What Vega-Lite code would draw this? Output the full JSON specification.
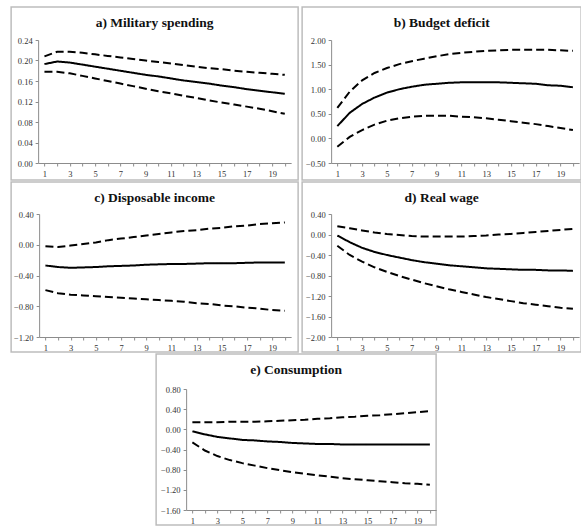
{
  "$schema": "https://vega.github.io/schema/vega-lite/v6.json",
  "background": "white",
  "padding": {"left": 10, "top": 6, "right": 0, "bottom": 0},
  "spacing": 0,
  "center": true,
  "config": {
    "view": {"stroke": "#bdbdbd", "strokeWidth": 1.5},
    "axis": {"grid": false, "domainColor": "#8c8c8c", "tickColor": "#8c8c8c", "tickSize": 3, "labelFont": "Liberation Serif, Times New Roman, serif", "labelFontSize": 8.5, "labelColor": "#333333", "labelPadding": 3},
    "title": {"font": "Liberation Serif, Times New Roman, serif", "fontSize": 13.5, "fontWeight": "bold", "color": "#111111", "frame": "group", "offset": -22},
    "line": {"color": "black", "strokeWidth": 2}
  },
  "datasets": {
    "a": [
      {"t": 1, "lo": 0.178, "est": 0.193, "hi": 0.208},
      {"t": 2, "lo": 0.178, "est": 0.198, "hi": 0.217},
      {"t": 3, "lo": 0.175, "est": 0.196, "hi": 0.217},
      {"t": 4, "lo": 0.170, "est": 0.192, "hi": 0.215},
      {"t": 5, "lo": 0.165, "est": 0.188, "hi": 0.212},
      {"t": 6, "lo": 0.160, "est": 0.184, "hi": 0.209},
      {"t": 7, "lo": 0.155, "est": 0.180, "hi": 0.206},
      {"t": 8, "lo": 0.150, "est": 0.176, "hi": 0.203},
      {"t": 9, "lo": 0.145, "est": 0.172, "hi": 0.200},
      {"t": 10, "lo": 0.140, "est": 0.169, "hi": 0.197},
      {"t": 11, "lo": 0.136, "est": 0.165, "hi": 0.194},
      {"t": 12, "lo": 0.131, "est": 0.161, "hi": 0.191},
      {"t": 13, "lo": 0.127, "est": 0.158, "hi": 0.188},
      {"t": 14, "lo": 0.122, "est": 0.155, "hi": 0.185},
      {"t": 15, "lo": 0.118, "est": 0.151, "hi": 0.183},
      {"t": 16, "lo": 0.114, "est": 0.148, "hi": 0.180},
      {"t": 17, "lo": 0.110, "est": 0.144, "hi": 0.178},
      {"t": 18, "lo": 0.106, "est": 0.141, "hi": 0.176},
      {"t": 19, "lo": 0.101, "est": 0.138, "hi": 0.174},
      {"t": 20, "lo": 0.096, "est": 0.135, "hi": 0.172}
    ],
    "b": [
      {"t": 1, "lo": -0.17, "est": 0.25, "hi": 0.62},
      {"t": 2, "lo": 0.03, "est": 0.52, "hi": 0.95},
      {"t": 3, "lo": 0.17, "est": 0.70, "hi": 1.18},
      {"t": 4, "lo": 0.28, "est": 0.83, "hi": 1.33},
      {"t": 5, "lo": 0.36, "est": 0.93, "hi": 1.43},
      {"t": 6, "lo": 0.41, "est": 1.00, "hi": 1.51},
      {"t": 7, "lo": 0.44, "est": 1.05, "hi": 1.57},
      {"t": 8, "lo": 0.46, "est": 1.09, "hi": 1.62},
      {"t": 9, "lo": 0.46, "est": 1.11, "hi": 1.67},
      {"t": 10, "lo": 0.46, "est": 1.13, "hi": 1.71},
      {"t": 11, "lo": 0.44, "est": 1.14, "hi": 1.74},
      {"t": 12, "lo": 0.43, "est": 1.14, "hi": 1.76},
      {"t": 13, "lo": 0.41, "est": 1.14, "hi": 1.78},
      {"t": 14, "lo": 0.38, "est": 1.14, "hi": 1.79},
      {"t": 15, "lo": 0.35, "est": 1.13, "hi": 1.80},
      {"t": 16, "lo": 0.32, "est": 1.12, "hi": 1.80},
      {"t": 17, "lo": 0.29, "est": 1.11, "hi": 1.80},
      {"t": 18, "lo": 0.25, "est": 1.08, "hi": 1.80},
      {"t": 19, "lo": 0.21, "est": 1.07, "hi": 1.79},
      {"t": 20, "lo": 0.17, "est": 1.04, "hi": 1.78}
    ],
    "c": [
      {"t": 1, "lo": -0.59, "est": -0.27, "hi": -0.02},
      {"t": 2, "lo": -0.63, "est": -0.29, "hi": -0.03},
      {"t": 3, "lo": -0.65, "est": -0.30, "hi": -0.01},
      {"t": 4, "lo": -0.66, "est": -0.295, "hi": 0.01},
      {"t": 5, "lo": -0.67, "est": -0.29, "hi": 0.03},
      {"t": 6, "lo": -0.68, "est": -0.28, "hi": 0.06},
      {"t": 7, "lo": -0.69, "est": -0.275, "hi": 0.08},
      {"t": 8, "lo": -0.70, "est": -0.27, "hi": 0.10},
      {"t": 9, "lo": -0.71, "est": -0.26, "hi": 0.12},
      {"t": 10, "lo": -0.72, "est": -0.255, "hi": 0.14},
      {"t": 11, "lo": -0.73, "est": -0.25, "hi": 0.16},
      {"t": 12, "lo": -0.74, "est": -0.25, "hi": 0.18},
      {"t": 13, "lo": -0.76, "est": -0.245, "hi": 0.19},
      {"t": 14, "lo": -0.77, "est": -0.24, "hi": 0.21},
      {"t": 15, "lo": -0.79, "est": -0.24, "hi": 0.22},
      {"t": 16, "lo": -0.80, "est": -0.24, "hi": 0.24},
      {"t": 17, "lo": -0.82, "est": -0.235, "hi": 0.25},
      {"t": 18, "lo": -0.83, "est": -0.23, "hi": 0.27},
      {"t": 19, "lo": -0.85, "est": -0.23, "hi": 0.28},
      {"t": 20, "lo": -0.86, "est": -0.23, "hi": 0.29}
    ],
    "d": [
      {"t": 1, "lo": -0.22, "est": -0.02, "hi": 0.16},
      {"t": 2, "lo": -0.40, "est": -0.15, "hi": 0.12},
      {"t": 3, "lo": -0.53, "est": -0.26, "hi": 0.08},
      {"t": 4, "lo": -0.64, "est": -0.34, "hi": 0.04},
      {"t": 5, "lo": -0.73, "est": -0.40, "hi": 0.01},
      {"t": 6, "lo": -0.81, "est": -0.45, "hi": -0.01},
      {"t": 7, "lo": -0.88, "est": -0.50, "hi": -0.03},
      {"t": 8, "lo": -0.95, "est": -0.54, "hi": -0.04},
      {"t": 9, "lo": -1.01, "est": -0.57, "hi": -0.04},
      {"t": 10, "lo": -1.07, "est": -0.60, "hi": -0.04},
      {"t": 11, "lo": -1.12, "est": -0.62, "hi": -0.04},
      {"t": 12, "lo": -1.17, "est": -0.64, "hi": -0.03},
      {"t": 13, "lo": -1.22, "est": -0.66, "hi": -0.02},
      {"t": 14, "lo": -1.26, "est": -0.67, "hi": 0.00},
      {"t": 15, "lo": -1.30, "est": -0.68, "hi": 0.01},
      {"t": 16, "lo": -1.34, "est": -0.69, "hi": 0.03},
      {"t": 17, "lo": -1.37, "est": -0.69, "hi": 0.05},
      {"t": 18, "lo": -1.40, "est": -0.70, "hi": 0.07},
      {"t": 19, "lo": -1.43, "est": -0.70, "hi": 0.09},
      {"t": 20, "lo": -1.45, "est": -0.71, "hi": 0.11}
    ],
    "e": [
      {"t": 1, "lo": -0.26, "est": -0.04, "hi": 0.14},
      {"t": 2, "lo": -0.42, "est": -0.10, "hi": 0.14},
      {"t": 3, "lo": -0.53, "est": -0.15, "hi": 0.14},
      {"t": 4, "lo": -0.61, "est": -0.18, "hi": 0.15},
      {"t": 5, "lo": -0.67, "est": -0.21, "hi": 0.15},
      {"t": 6, "lo": -0.72, "est": -0.22, "hi": 0.15},
      {"t": 7, "lo": -0.77, "est": -0.24, "hi": 0.16},
      {"t": 8, "lo": -0.81, "est": -0.25, "hi": 0.17},
      {"t": 9, "lo": -0.85, "est": -0.27, "hi": 0.18},
      {"t": 10, "lo": -0.88, "est": -0.28, "hi": 0.19},
      {"t": 11, "lo": -0.91, "est": -0.29, "hi": 0.21},
      {"t": 12, "lo": -0.94, "est": -0.29, "hi": 0.22},
      {"t": 13, "lo": -0.97, "est": -0.30, "hi": 0.24},
      {"t": 14, "lo": -0.99, "est": -0.30, "hi": 0.25},
      {"t": 15, "lo": -1.01, "est": -0.30, "hi": 0.27},
      {"t": 16, "lo": -1.03, "est": -0.30, "hi": 0.28},
      {"t": 17, "lo": -1.05, "est": -0.30, "hi": 0.30},
      {"t": 18, "lo": -1.07, "est": -0.30, "hi": 0.32},
      {"t": 19, "lo": -1.08, "est": -0.30, "hi": 0.34},
      {"t": 20, "lo": -1.10, "est": -0.30, "hi": 0.36}
    ]
  },
  "vconcat": [
    {
      "spacing": 2,
      "hconcat": [
        {
          "width": 287, "height": 173,
          "title": {"text": "a) Military spending"},
          "data": {"name": "a"},
          "transform": [{"fold": ["lo", "est", "hi"], "as": ["series", "v"]}],
          "mark": "line",
          "encoding": {
            "x": {"field": "t", "type": "quantitative", "scale": {"domain": [0.5, 20.5], "range": [27, 280], "nice": false, "zero": false}, "axis": {"title": null, "values": [1,2,3,4,5,6,7,8,9,10,11,12,13,14,15,16,17,18,19,20], "labelExpr": "datum.value % 2 == 1 ? datum.label : ''", "offset": -17}},
            "y": {"field": "v", "type": "quantitative", "scale": {"domain": [0, 0.24], "range": [156, 33], "nice": false, "zero": false}, "axis": {"title": null, "values": [0, 0.04, 0.08, 0.12, 0.16, 0.2, 0.24], "format": ".2f", "offset": -27}},
            "strokeDash": {"field": "series", "type": "nominal", "scale": {"domain": ["est", "lo", "hi"], "range": [[1, 0], [8, 4], [8, 4]]}, "legend": null}
          }
        },
        {
          "width": 279, "height": 173,
          "title": {"text": "b) Budget deficit"},
          "data": {"name": "b"},
          "transform": [{"fold": ["lo", "est", "hi"], "as": ["series", "v"]}],
          "mark": "line",
          "encoding": {
            "x": {"field": "t", "type": "quantitative", "scale": {"domain": [0.5, 20.5], "range": [29, 277], "nice": false, "zero": false}, "axis": {"title": null, "values": [1,2,3,4,5,6,7,8,9,10,11,12,13,14,15,16,17,18,19,20], "labelExpr": "datum.value % 2 == 1 ? datum.label : ''", "offset": -17}},
            "y": {"field": "v", "type": "quantitative", "scale": {"domain": [-0.5, 2.0], "range": [156, 33], "nice": false, "zero": false}, "axis": {"title": null, "values": [-0.5, 0, 0.5, 1.0, 1.5, 2.0], "format": ".2f", "offset": -29}},
            "strokeDash": {"field": "series", "type": "nominal", "scale": {"domain": ["est", "lo", "hi"], "range": [[1, 0], [8, 4], [8, 4]]}, "legend": null}
          }
        }
      ]
    },
    {
      "spacing": 2,
      "hconcat": [
        {
          "width": 287, "height": 170,
          "title": {"text": "c) Disposable income"},
          "data": {"name": "c"},
          "transform": [{"fold": ["lo", "est", "hi"], "as": ["series", "v"]}],
          "mark": "line",
          "encoding": {
            "x": {"field": "t", "type": "quantitative", "scale": {"domain": [0.5, 20.5], "range": [28, 280], "nice": false, "zero": false}, "axis": {"title": null, "values": [1,2,3,4,5,6,7,8,9,10,11,12,13,14,15,16,17,18,19,20], "labelExpr": "datum.value % 2 == 1 ? datum.label : ''", "offset": -15}},
            "y": {"field": "v", "type": "quantitative", "scale": {"domain": [-1.2, 0.4], "range": [155, 32], "nice": false, "zero": false}, "axis": {"title": null, "values": [-1.2, -0.8, -0.4, 0, 0.4], "format": ".2f", "offset": -28}},
            "strokeDash": {"field": "series", "type": "nominal", "scale": {"domain": ["est", "lo", "hi"], "range": [[1, 0], [8, 4], [8, 4]]}, "legend": null}
          }
        },
        {
          "width": 279, "height": 170,
          "title": {"text": "d) Real wage"},
          "data": {"name": "d"},
          "transform": [{"fold": ["lo", "est", "hi"], "as": ["series", "v"]}],
          "mark": "line",
          "encoding": {
            "x": {"field": "t", "type": "quantitative", "scale": {"domain": [0.5, 20.5], "range": [29, 277], "nice": false, "zero": false}, "axis": {"title": null, "values": [1,2,3,4,5,6,7,8,9,10,11,12,13,14,15,16,17,18,19,20], "labelExpr": "datum.value % 2 == 1 ? datum.label : ''", "offset": -15}},
            "y": {"field": "v", "type": "quantitative", "scale": {"domain": [-2.0, 0.4], "range": [155, 32], "nice": false, "zero": false}, "axis": {"title": null, "values": [-2.0, -1.6, -1.2, -0.8, -0.4, 0, 0.4], "format": ".2f", "offset": -29}},
            "strokeDash": {"field": "series", "type": "nominal", "scale": {"domain": ["est", "lo", "hi"], "range": [[1, 0], [8, 4], [8, 4]]}, "legend": null}
          }
        }
      ]
    },
    {
      "width": 280, "height": 171,
      "title": {"text": "e) Consumption"},
      "data": {"name": "e"},
      "transform": [{"fold": ["lo", "est", "hi"], "as": ["series", "v"]}],
      "mark": "line",
      "encoding": {
        "x": {"field": "t", "type": "quantitative", "scale": {"domain": [0.5, 20.5], "range": [30, 280], "nice": false, "zero": false}, "axis": {"title": null, "values": [1,2,3,4,5,6,7,8,9,10,11,12,13,14,15,16,17,18,19,20], "labelExpr": "datum.value % 2 == 1 ? datum.label : ''", "offset": -15}},
        "y": {"field": "v", "type": "quantitative", "scale": {"domain": [-1.6, 0.8], "range": [156, 35], "nice": false, "zero": false}, "axis": {"title": null, "values": [-1.6, -1.2, -0.8, -0.4, 0, 0.4, 0.8], "format": ".2f", "offset": -30}},
        "strokeDash": {"field": "series", "type": "nominal", "scale": {"domain": ["est", "lo", "hi"], "range": [[1, 0], [8, 4], [8, 4]]}, "legend": null}
      }
    }
  ]
}
